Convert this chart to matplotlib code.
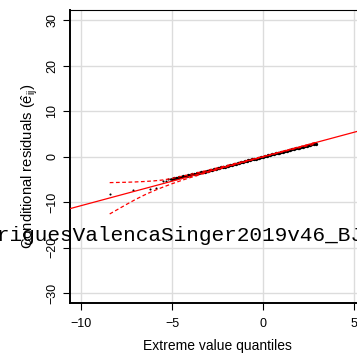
import matplotlib
matplotlib.use("Agg")
import matplotlib.pyplot as plt
import numpy as np

plt.rcParams["font.family"] = ["Liberation Sans", "DejaVu Sans"]
plt.rcParams["mathtext.fontset"] = "custom"
plt.rcParams["mathtext.rm"] = "Liberation Sans"
plt.rcParams["mathtext.it"] = "Liberation Sans:italic"

# isolated points in the lower tail
tail_x = [-8.42, -7.16, -6.19, -5.90, -5.51, -5.33, -5.20, -5.10]
tail_y = [-8.20, -7.25, -7.03, -6.88, -5.43, -5.27, -5.00, -4.92]

# bulk of the residuals (quantile, residual)
bulk_x = [
    -5.0, -4.9, -4.8, -4.7, -4.6, -4.5, -4.4, -4.3, -4.2, -4.1,
    -4.0, -3.9, -3.8, -3.7, -3.6, -3.5, -3.4, -3.3, -3.2, -3.1,
    -3.0, -2.9, -2.8, -2.7, -2.6, -2.5, -2.4, -2.3, -2.2, -2.1,
    -2.0, -1.9, -1.8, -1.7, -1.6, -1.5, -1.4, -1.3, -1.2, -1.1,
    -1.0, -0.9, -0.8, -0.7, -0.6, -0.5, -0.4, -0.3, -0.2, -0.1,
    0.0, 0.1, 0.2, 0.3, 0.4, 0.5, 0.6, 0.7, 0.8, 0.9,
    1.0, 1.1, 1.2, 1.3, 1.4, 1.5, 1.6, 1.7, 1.8, 1.9,
    2.0, 2.1, 2.2, 2.3, 2.4, 2.5, 2.6, 2.7, 2.8, 2.9,
]
bulk_y = [
    -4.85, -4.78, -4.70, -4.60, -4.52, -4.44, -4.34, -4.25, -4.16, -4.07,
    -3.98, -3.90, -3.80, -3.72, -3.64, -3.55, -3.46, -3.37, -3.27, -3.18,
    -3.08, -2.98, -2.88, -2.78, -2.68, -2.58, -2.47, -2.37, -2.27, -2.16,
    -2.06, -1.96, -1.86, -1.75, -1.65, -1.55, -1.44, -1.34, -1.23, -1.13,
    -1.03, -0.92, -0.82, -0.72, -0.61, -0.51, -0.41, -0.30, -0.20, -0.10,
    0.01, 0.11, 0.22, 0.32, 0.42, 0.52, 0.63, 0.73, 0.83, 0.93,
    1.03, 1.13, 1.23, 1.33, 1.43, 1.53, 1.63, 1.73, 1.83, 1.92,
    2.02, 2.12, 2.22, 2.32, 2.42, 2.52, 2.61, 2.71, 2.80, 2.88,
]

# simulated envelope
env_x = [-8.42, -7.5, -7.0, -6.5, -6.0, -5.5, -5.0, -4.5, -4.0,
         -3.0, -2.0, -1.0, 0.0, 1.0, 2.0, 2.6, 2.9]
env_upper = [-5.70, -5.62, -5.55, -5.45, -5.32, -5.12, -4.78, -4.33, -3.90,
             -2.95, -1.95, -0.95, 0.05, 1.10, 2.15, 2.80, 3.20]
env_lower = [-12.60, -10.50, -9.40, -8.40, -7.50, -6.70, -5.95, -5.25, -4.60,
             -3.40, -2.25, -1.15, -0.05, 1.00, 2.00, 2.55, 2.80]

# reference line
line_slope = 1.078
line_intercept = 0.0

x_ticks = [-10, -5, 0, 5]
y_ticks = [-30, -20, -10, 0, 10, 20, 30]


def main():
    fig = plt.figure(figsize=(3.57, 3.54), dpi=100)
    ax = fig.add_axes([70 / 357, 51 / 354, 295 / 357, 293 / 354])

    ax.set_xlim(-10.6, 5.6)
    ax.set_ylim(-32.2, 32.3)
    ax.set_xticks(x_ticks)
    ax.set_yticks(y_ticks)
    ax.grid(color="#dcdcdc", linewidth=1.0, zorder=0)
    ax.set_axisbelow(True)

    xs = np.array(ax.get_xlim())
    ax.plot(xs, line_intercept + line_slope * xs, color="red", lw=0.9, zorder=4)
    ax.plot(env_x, env_upper, color="red", lw=0.9, ls=(0, (3, 2)), zorder=4)
    ax.plot(env_x, env_lower, color="red", lw=0.9, ls=(0, (3, 2)), zorder=4)

    ax.plot(tail_x, tail_y, "o", color="black", ms=1.5, mew=0, zorder=3)
    ax.plot(bulk_x, bulk_y, "o", color="black", ms=2.4, mew=0, zorder=3)

    ax.spines["right"].set_visible(False)
    ax.spines["left"].set_linewidth(1.4)
    ax.spines["bottom"].set_linewidth(1.4)
    ax.spines["top"].set_linewidth(0.8)

    ax.tick_params(axis="both", length=5, width=0.8, labelsize=9)
    ax.tick_params(axis="x", pad=6)
    ax.tick_params(axis="y", pad=3.5, labelrotation=90)
    for lab in ax.get_yticklabels():
        lab.set_verticalalignment("center")

    ax.set_xlabel("Extreme value quantiles", fontsize=10, labelpad=6)
    ax.set_ylabel(r"Conditional residuals ($\hat{\mathrm{e}}_{\mathrm{ij}}$)",
                  fontsize=10.6)
    ax.yaxis.set_label_coords(-40 / 295, 0.466)
    ax.yaxis.label.set_verticalalignment("center")

    fig.text(-41 / 357, 1 - 241 / 354, "RodriguesValencaSinger2019v46_BJPS",
             family="Liberation Mono", fontsize=15.2, ha="left",
             va="baseline", color="black", zorder=10)

    fig.savefig("out.png", dpi=100)


if __name__ == "__main__":
    main()
